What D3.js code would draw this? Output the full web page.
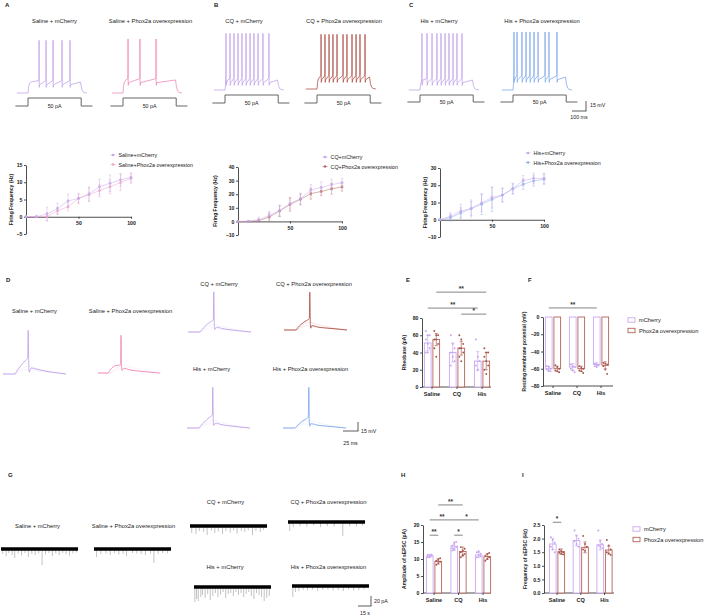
<!DOCTYPE html>
<html><head><meta charset="utf-8">
<script src="https://cdn.jsdelivr.net/npm/d3@7"></script>
<style>body{margin:0;background:#fff}svg{display:block}</style>
</head><body>
<svg id="chart" width="709" height="616"></svg>
<script>
// ================= DATA =================
const groupTitles = ["Saline + mCherry","Saline + Phox2a overexpression","CQ + mCherry","CQ + Phox2a overexpression","His + mCherry","His + Phox2a overexpression"];
const stimLabel = "50 pA";
// A-C: spike times (ms) during a 50 pA step, peak and plateau voltage (mV)
const firingSpikeTimes = [
  [159,209,259,323,380],
  [116,201,316],
  [87,116,144,173,201,230,259,287,316,351,394],
  [109,137,166,194,223,266,294,330,359,387,423],
  [94,130,166,201,230,259,287,316,344,380],
  [87,109,144,173,201,230,259,309,337,394]
];
const firingPeak = [14,16,20,17,20,22];
const firingPlateau = [-48.5,-45.5,-50,-47,-50,-45.5];
const restPotential = -65;
const stepOnMs = 80, stepOffMs = 460;

// f-I curves
const stimSteps = [0,10,20,30,40,50,60,70,80,90,100];
const fiSalineMCherry = [0,0,0.8,2.4,4.6,5.3,6.6,8.7,9.7,10.7,11.4];
const fiSalinePhox    = [0,0,0,1.7,2.9,5.3,6.4,7.6,8.7,9.9,11.1];
const fiSalineMCherryErr = [0,0,2,1.5,2,1.2,2,2.2,2.4,1.8,1.3];
const fiSalinePhoxErr    = [0,0,1.2,1,1.2,1.5,2,1.8,2,2.3,1.5];
const fiCQMCherry = [0,0,1.2,4.4,8,13,16.7,23,25,27,28.5];
const fiCQPhox    = [0,0,0.5,3.2,7.6,12.5,16.2,20.4,22,24,25.3];
const fiCQMCherryErr = [0,0,2,3,4,4,4,4,4,4,3];
const fiCQPhoxErr    = [0,0,1,3,4,5,4,4,3,4,3];
const fiHisMCherry = [0,2,5,6.5,9.8,12.9,14.3,18.2,22.7,24,24];
const fiHisPhox    = [0,1.2,3.9,6.5,9,11.8,14.3,17.8,20.6,22.5,23.5];
const fiHisMCherryErr = [0,2,4,5,5,6,4,3,3,3,3];
const fiHisPhoxErr    = [0,2,3,4,6,7,4,3,3,3,3];
const fiLegend = [["Saline+mCherry","Saline+Phox2a overexpression"],["CQ+mCherry","CQ+Phox2a overexpression"],["His+mCherry","His+Phox2a overexpression"]];
const fiYTicks = [[-5,0,5,10,15],[-10,0,10,20,30,40],[-10,0,10,20,30]];
const fiXTicks = [50,100];

// D: single action potentials [ms, mV above rest]
const apSalineMCherry = [[0,0],[20,0],[22,3],[26,9],[30,14],[34,19],[38,23],[41.2,27],[42,73],[42.8,22],[43.6,3],[45,6],[47,10],[52,9],[60,7],[75,4],[90,2],[105,0]];
const apSalinePhox    = [[0,0],[17,0],[20,5],[25,10],[30,12.5],[35,13],[37.6,13.5],[38.4,63],[39.2,12],[40,4],[42,7],[45,8],[50,6],[60,4],[75,2.5],[90,1],[103,0]];
const apCQMCherry     = [[0,0],[20,0],[23,4],[28,9],[33,14],[38,17],[42.2,21],[43,67],[43.8,14],[44.6,4],[46,7],[49,8],[56,6],[68,4],[85,2],[105,0]];
const apCQPhox        = [[0,0],[20,0],[23,4],[28,9],[33,13],[38,16],[42.2,19],[43,63],[43.8,13],[44.6,3],[46,7],[49,7],[56,5],[68,3.5],[85,2],[105,0]];
const apHisMCherry    = [[0,0],[20,0],[23,4],[28,9],[33,14],[38,18],[42.2,22],[43,68],[43.8,14],[44.6,4],[46,7],[49,8],[56,6],[68,4],[85,2],[105,0]];
const apHisPhox       = [[0,0],[20,0],[23,3],[28,8],[33,12],[38,15],[42.2,18],[43,68],[43.8,12],[44.6,3],[46,7],[49,7],[56,5],[68,3.5],[85,2],[105,0]];
const apSubthreshold1 = [[0,0],[20,0],[26,5],[34,10],[42,13],[50,11],[65,7],[85,3],[105,0]];
const apSubthreshold2 = [[0,0],[20,0],[28,4],[38,7],[48,6],[70,3],[105,0]];

// Bar categories
const barCategories = ["Saline","CQ","His"];
const barSeries = ["mCherry","Phox2a overexpression"];
// E rheobase (pA)
const rheoMCherry = [51,40,30], rheoPhox = [55,45,30];
const rheoMCherrySD = [9,11,11], rheoPhoxSD = [7,8,10];
const rheoMCherryPts = [[65,60,60,55,50,45,40,40],[60,50,45,40,35,30,25],[55,35,30,25,20]];
const rheoPhoxPts = [[65,60,60,55,55,50,45,35],[60,55,50,45,45,40,35,30],[45,40,40,35,30,25,20,15]];
const rheoTicks = [0,20,40,60,80];
// F resting membrane potential (mV)
const rmpMCherry = [-60,-58,-55], rmpPhox = [-60,-60,-56];
const rmpMCherrySD = [3,4,2], rmpPhoxSD = [3,3,4];
const rmpMCherryPts = [[-57,-58,-60,-61,-62,-63],[-55,-57,-58,-60,-62,-64],[-54,-55,-56,-57,-58]];
const rmpPhoxPts = [[-56,-58,-60,-62,-63,-64],[-57,-59,-60,-62,-63,-65],[-53,-54,-55,-57,-61,-66]];
const rmpTicks = [0,-20,-40,-60,-80];
// G sEPSC events [s, pA]
const sepscEvents = [
  [[2,10],[6,14],[9,8],[13,12],[16,18],[20,9],[24,13],[28,8],[32,16],[36,10],[40,12],[44,9],[48,32],[52,11],[56,8],[60,14],[64,9],[68,12],[72,8],[76,10],[80,13],[84,9],[88,7]],
  [[3,16],[8,10],[14,9],[19,12],[24,8],[29,11],[34,10],[38,14],[45,8],[50,9],[55,10],[60,12],[66,9],[70,28],[75,10],[80,8],[86,9]],
  [[2,14],[7,16],[11,10],[16,12],[20,18],[25,9],[29,14],[33,11],[38,16],[42,10],[47,13],[51,9],[55,15],[60,10],[64,12],[68,9],[73,18],[77,10],[82,12],[86,8]],
  [[2,18],[6,10],[14,8],[22,9],[30,7],[38,10],[46,8],[54,9],[64,28],[72,8],[80,9],[87,7]],
  [[1,30],[3,24],[5,28],[8,20],[10,16],[13,22],[16,14],[19,26],[22,18],[25,12],[28,20],[31,15],[34,10],[37,22],[40,14],[43,12],[46,18],[49,10],[52,16],[55,12],[58,20],[61,14],[64,10],[67,18],[70,24],[73,12],[76,16],[79,20],[82,28],[85,22],[88,18]],
  [[1,22],[4,12],[8,10],[13,8],[18,9],[24,7],[30,10],[36,8],[42,7],[48,9],[54,8],[60,10],[66,7],[72,9],[78,8],[84,7]]
];
const sepscDuration = 90;
// H amplitude (pA)
const ampMCherry = [10.9,13.8,11.2], ampPhox = [9.3,12.2,10.7];
const ampMCherrySD = [0.5,1.2,0.8], ampPhoxSD = [0.8,1.3,0.8];
const ampMCherryPts = [[10.5,10.8,11,11.2,10.7,11.3],[12.5,13,13.5,14,14.5,15,13.2,12.8],[10.5,11,11.5,12,12.3,10.8]];
const ampPhoxPts = [[8.3,8.8,9.2,9.5,9.8,10.2],[10.5,11,11.5,12,12.5,13,13.5,11.2],[9.5,10,10.5,11,11.5,11.8]];
const ampTicks = [0,5,10,15,20];
// I frequency (Hz)
const freqMCherry = [1.8,1.93,1.77], freqPhox = [1.52,1.68,1.58];
const freqMCherrySD = [0.2,0.2,0.18], freqPhoxSD = [0.1,0.2,0.15];
const freqMCherryPts = [[2.05,1.95,1.85,1.7,1.6,1.5],[2.3,2.1,2.0,1.9,1.8,1.7],[2.3,1.9,1.8,1.75,1.7,1.65]];
const freqPhoxPts = [[1.6,1.55,1.5,1.48,1.45,1.42],[2.1,1.8,1.7,1.6,1.55],[1.95,1.75,1.6,1.5,1.45,1.4]];
const freqTicks = [0,0.5,1.0,1.5,2.0,2.5];

// ================= DRAW =================
const svg = d3.select("#chart");
const FF = "'Liberation Sans', Arial, Helvetica, sans-serif";
const COL = {mc:"#c3a3ea", salPh:"#ee8db8", cqPh:"#b0524a", hisPh:"#82aaee",
  fiMc:"#c7a9ec", fiSal:"#f2a2c9", fiCQ:"#b86c64", fiHis:"#8eb1ef",
  barM:"#c9a8f0", barP:"#b5645a", dotM:"#c7a2ef", dotP:"#a9544a", axis:"#222", step:"#555", sig:"#666"};
const traceColors = [COL.mc, COL.salPh, COL.mc, COL.cqPh, COL.mc, COL.hisPh];

function text(x,y,t,o={}){
  const el = svg.append("text").attr("x",x).attr("y",y).attr("font-family",FF)
    .attr("font-size",o.size||5.8).attr("text-anchor",o.anchor||"start")
    .attr("font-weight",o.weight||"normal").attr("fill",o.fill||"#222").text(t);
  if(o.rot) el.attr("transform",`rotate(${o.rot},${x},${y})`);
  return el;
}
function line(x1,y1,x2,y2,c,w){ svg.append("line").attr("x1",x1).attr("y1",y1).attr("x2",x2).attr("y2",y2).attr("stroke",c).attr("stroke-width",w); }

// panel letters
[["A",5,7],["B",214,7],["C",409,7],["D",6,282],["E",406,282],["F",528,282],["G",8,477],["H",401,477],["I",522,477]]
  .forEach(([l,x,y])=>text(x,y,l,{size:6,weight:"bold"}));

// ---------- A-C firing traces ----------
const firingLayout = [
  {x0:16.8, base:93, sBase:106, sHigh:98, tx:54.5},
  {x0:111.8, base:93, sBase:106, sHigh:98, tx:150.5},
  {x0:213.8, base:90, sBase:103, sHigh:95, tx:244},
  {x0:305.8, base:89, sBase:103, sHigh:95, tx:344},
  {x0:408.8, base:90, sBase:102, sHigh:95, tx:439},
  {x0:501.8, base:90, sBase:102, sHigh:95, tx:542}
];
const msPx = 0.14, mvPx = 0.667;
function firingPoints(spikes, plateau, peak){
  const r = restPotential, ahp = plateau - 8;
  const pts = [[0,r],[stepOnMs,r],[stepOnMs+4,r+(plateau-r)*0.55],[stepOnMs+10,r+(plateau-r)*0.85],[stepOnMs+20,plateau]];
  spikes.forEach(s=>{ pts.push([s-2,plateau+2],[s-0.4,plateau+6],[s,peak],[s+0.6,plateau+4],[s+1.6,ahp],[s+5,plateau-4]); });
  pts.push([stepOffMs-5,plateau],[stepOffMs+2,r+(plateau-r)*0.45],[stepOffMs+10,r+(plateau-r)*0.15],[stepOffMs+20,r+1],[500,r]);
  return pts.sort((a,b)=>a[0]-b[0]);
}
firingLayout.forEach((L,i)=>{
  const x = d3.scaleLinear().domain([0,1]).range([L.x0, L.x0+msPx]);
  const y = d3.scaleLinear().domain([restPotential, restPotential+1]).range([L.base, L.base-mvPx]);
  const ln = d3.line().x(d=>x(d[0])).y(d=>y(d[1]));
  svg.append("path").attr("d",ln(firingPoints(firingSpikeTimes[i], firingPlateau[i], firingPeak[i])))
    .attr("fill","none").attr("stroke",traceColors[i]).attr("stroke-width",0.8).attr("stroke-linejoin","round");
  const sy = d3.scaleLinear().domain([0,50]).range([L.sBase, L.sHigh]);
  const stepPts = [[-10,0],[stepOnMs,0],[stepOnMs,50],[stepOffMs,50],[stepOffMs,0],[540,0]];
  svg.append("path").attr("d",d3.line().x(d=>x(d[0])).y(d=>sy(d[1]))(stepPts))
    .attr("fill","none").attr("stroke",COL.step).attr("stroke-width",0.9);
  text(x((stepOnMs+stepOffMs)/2), L.sBase+2, stimLabel, {size:5.3, anchor:"middle"});
  text(L.tx, 23, groupTitles[i], {anchor:"middle"});
});
// scale bar A-C
line(586,101,586,111,"#333",0.8); line(572,111,586.4,111,"#333",0.8);
text(590,107,"15 mV",{size:5.3}); text(579,118.5,"100 ms",{size:5.3,anchor:"middle"});

// ---------- f-I plots ----------
const fiData = [
  {m:[fiSalineMCherry,fiSalinePhox], e:[fiSalineMCherryErr,fiSalinePhoxErr], c:[COL.fiMc,COL.fiSal]},
  {m:[fiCQMCherry,fiCQPhox], e:[fiCQMCherryErr,fiCQPhoxErr], c:[COL.fiMc,COL.fiCQ]},
  {m:[fiHisMCherry,fiHisPhox], e:[fiHisMCherryErr,fiHisPhoxErr], c:[COL.fiMc,COL.fiHis]}
];
const fiLayout = [
  {xr:[26,131], yr:[234,165], ylx:13, leg:[113,155]},
  {xr:[238,342], yr:[235,167], ylx:217, leg:[325,157]},
  {xr:[440,544], yr:[237,168], ylx:427, leg:[528,153]}
];
function styleAxis(g){
  g.selectAll("path,line").attr("stroke",COL.axis).attr("stroke-width",0.8);
  g.selectAll("text").attr("font-family",FF).attr("font-size",5.2).attr("font-weight","bold").attr("fill","#222");
}
fiData.forEach((D,k)=>{
  const L = fiLayout[k], ticks = fiYTicks[k];
  const x = d3.scaleLinear().domain([0,100]).range(L.xr);
  const y = d3.scaleLinear().domain([ticks[0], ticks[ticks.length-1]]).range(L.yr);
  const ga = svg.append("g").attr("transform",`translate(${L.xr[0]},0)`)
    .call(d3.axisLeft(y).tickValues(ticks).tickSize(2).tickPadding(1.5).tickSizeOuter(0));
  styleAxis(ga);
  const gb = svg.append("g").attr("transform",`translate(0,${y(0)})`)
    .call(d3.axisBottom(x).tickValues(fiXTicks).tickSize(2).tickPadding(3).tickSizeOuter(0));
  styleAxis(gb);
  text(L.ylx, (L.yr[0]+L.yr[1])/2, "Firing Frequency (Hz)", {size:5, weight:"bold", anchor:"middle", rot:-90});
  [1,0].forEach(s=>{
    const col = D.c[s];
    const g = svg.append("g").attr("opacity",0.85);
    g.append("path").attr("d",d3.line().x((d,i)=>x(stimSteps[i])).y(d=>y(d))(D.m[s]))
      .attr("fill","none").attr("stroke",col).attr("stroke-width",0.6);
    D.m[s].forEach((v,i)=>{
      const e = D.e[s][i], xx = x(stimSteps[i]);
      if(e>0){
        g.append("line").attr("x1",xx).attr("x2",xx).attr("y1",y(v-e)).attr("y2",y(v+e)).attr("stroke",col).attr("stroke-width",0.5);
        [v-e,v+e].forEach(b=>g.append("line").attr("x1",xx-1.2).attr("x2",xx+1.2).attr("y1",y(b)).attr("y2",y(b)).attr("stroke",col).attr("stroke-width",0.5));
      }
      g.append("circle").attr("cx",xx).attr("cy",y(v)).attr("r",1.4).attr("fill",col);
    });
  });
  fiLegend[k].forEach((t,s)=>{
    const lx = L.leg[0], ly = L.leg[1] + s*9.5;
    line(lx-2.5,ly,lx+2.5,ly,D.c[s],0.6);
    svg.append("circle").attr("cx",lx).attr("cy",ly).attr("r",1.3).attr("fill",D.c[s]);
    text(lx+5.5, ly+2, t, {size:5.4});
  });
});

// ---------- D action potentials ----------
const apData = [apSalineMCherry, apSalinePhox, apCQMCherry, apCQPhox, apHisMCherry, apHisPhox];
const apLayout = [
  {x0:3, base:374, tx:34.5, ty:313},
  {x0:98, base:373, tx:130.5, ty:313},
  {x0:188, base:332, tx:219, ty:286},
  {x0:284, base:330, tx:314, ty:286},
  {x0:187, base:428, tx:211.5, ty:371},
  {x0:283, base:428, tx:310.5, ty:371}
];
const apPx = 0.6;
apLayout.forEach((L,i)=>{
  const x = d3.scaleLinear().domain([0,1]).range([L.x0, L.x0+apPx]);
  const y = d3.scaleLinear().domain([0,1]).range([L.base, L.base-apPx]);
  const ln = d3.line().x(d=>x(d[0])).y(d=>y(d[1])).curve(d3.curveMonotoneX);
  [apSubthreshold1, apSubthreshold2].forEach(sp=>{
    svg.append("path").attr("d",ln(sp)).attr("fill","none").attr("stroke",traceColors[i]).attr("stroke-width",0.5).attr("opacity",0.25);
  });
  svg.append("path").attr("d",ln(apData[i])).attr("fill","none").attr("stroke",traceColors[i]).attr("stroke-width",0.9).attr("stroke-linejoin","round");
  text(L.tx, L.ty, groupTitles[i], {anchor:"middle"});
});
line(358,422,358,431,"#333",0.8); line(343,431,358.4,431,"#333",0.8);
text(361,433,"15 mV",{size:5.3}); text(350.5,445,"25 ms",{size:5.3,anchor:"middle"});

// ---------- Bar charts ----------
function barChart(o){
  const y = d3.scaleLinear().domain(o.yDom).range(o.yRange);
  const x = d3.scalePoint().domain(barCategories).range(o.centers);
  const inner = d3.scaleBand().domain(barSeries).range([-8,8]).paddingInner(0.12);
  const bw = inner.bandwidth();
  const ga = svg.append("g").attr("transform",`translate(${o.axisX},0)`)
    .call(d3.axisLeft(y).tickValues(o.ticks).tickSize(2).tickPadding(1.5).tickSizeOuter(0).tickFormat(o.fmt||d3.format("")));
  styleAxis(ga);
  const xAxisY = y(o.xAxisAt);
  line(o.axisX, xAxisY, o.axisEnd, xAxisY, COL.axis, 0.8);
  barCategories.forEach(c=>{ line(x(c), xAxisY, x(c), xAxisY+2, COL.axis, 0.8);
    text(x(c), xAxisY+9, c, {size:5.6, weight:"bold", anchor:"middle"}); });
  const series = [
    {name:barSeries[0], mean:o.mM, sd:o.sdM, pts:o.pM, stroke:COL.barM, dot:COL.dotM},
    {name:barSeries[1], mean:o.mP, sd:o.sdP, pts:o.pP, stroke:COL.barP, dot:COL.dotP}
  ];
  series.forEach(S=>{
    barCategories.forEach((c,ci)=>{
      const bx = x(c)+inner(S.name), v = S.mean[ci];
      const y0 = y(0), y1 = y(v);
      svg.append("rect").attr("x",bx+0.4).attr("y",Math.min(y0,y1)).attr("width",bw-0.8).attr("height",Math.abs(y1-y0))
        .attr("fill","#fff").attr("stroke",S.stroke).attr("stroke-width",0.9);
      const cx = bx+bw/2, sd = S.sd[ci];
      line(cx, y(v-sd), cx, y(v+sd), S.stroke, 0.7);
      [v-sd, v+sd].forEach(b=>line(cx-1.6, y(b), cx+1.6, y(b), S.stroke, 0.7));
      S.pts[ci].forEach((p,pi)=>{
        svg.append("circle").attr("cx",cx+((pi%3)-1)*1.9).attr("cy",y(p)).attr("r",0.95).attr("fill",S.dot);
      });
    });
  });
  text(o.ylx, (o.yRange[0]+o.yRange[1])/2, o.yLabel, {size:5, weight:"bold", anchor:"middle", rot:-90});
  (o.sig||[]).forEach(([a,sa,b,sb,lv,lab])=>{
    const x1 = x(barCategories[a])+inner(barSeries[sa])+bw/2, x2 = x(barCategories[b])+inner(barSeries[sb])+bw/2;
    line(x1, y(lv), x2, y(lv), COL.sig, 0.8);
    text((x1+x2)/2, y(lv)-1.2, lab, {size:6.5, weight:"bold", anchor:"middle", fill:"#333"});
  });
  if(o.legend){
    series.forEach((S,si)=>{
      const lx = o.legend[0], ly = o.legend[1]+si*10.5;
      svg.append("rect").attr("x",lx).attr("y",ly-2.2).attr("width",7).attr("height",4.4).attr("fill","#fff").attr("stroke",S.stroke).attr("stroke-width",0.9);
      text(lx+11, ly+2, S.name, {size:5.7});
    });
  }
}
// E
barChart({yDom:[0,80], yRange:[387,318], centers:[432,482], axisX:422, axisEnd:491, xAxisAt:0, ticks:rheoTicks,
  mM:rheoMCherry, mP:rheoPhox, sdM:rheoMCherrySD, sdP:rheoPhoxSD, pM:rheoMCherryPts, pP:rheoPhoxPts,
  yLabel:"Rheobase (pA)", ylx:406,
  sig:[[0,1,2,1,110,"**"],[0,0,2,0,91.5,"**"],[1,1,2,1,84.5,"*"]]});
// F
barChart({yDom:[-80,0], yRange:[386,317], centers:[553,601], axisX:543, axisEnd:613, xAxisAt:-80, ticks:rmpTicks,
  mM:rmpMCherry, mP:rmpPhox, sdM:rmpMCherrySD, sdP:rmpPhoxSD, pM:rmpMCherryPts, pP:rmpPhoxPts,
  yLabel:"Resting membrane potential (mV)", ylx:526,
  sig:[[0,0,2,0,10.5,"**"]], legend:[628,320]});
// H
barChart({yDom:[0,20], yRange:[593,525], centers:[434,483], axisX:423, axisEnd:491, xAxisAt:0, ticks:ampTicks,
  mM:ampMCherry, mP:ampPhox, sdM:ampMCherrySD, sdP:ampPhoxSD, pM:ampMCherryPts, pP:ampPhoxPts,
  yLabel:"Amplitude of sEPSC (pA)", ylx:406,
  sig:[[0,1,1,1,25.9,"**"],[0,0,1,0,21.5,"**"],[1,0,2,0,21.5,"*"],[0,0,0,1,17,"**"],[1,0,1,1,17,"*"]]});
// I
barChart({yDom:[0,2.5], yRange:[593,525], centers:[557,604.5], axisX:544, axisEnd:614, xAxisAt:0, ticks:freqTicks, fmt:d3.format(".1f"),
  mM:freqMCherry, mP:freqPhox, sdM:freqMCherrySD, sdP:freqPhoxSD, pM:freqMCherryPts, pP:freqPhoxPts,
  yLabel:"Frequency of sEPSC (Hz)", ylx:527,
  sig:[[0,0,0,1,2.6,"*"]], legend:[633,529]});

// ---------- G sEPSC traces ----------
const sepscLayout = [
  {x0:1, y0:549, tx:37.5, ty:528},
  {x0:94, y0:549, tx:133.5, ty:528},
  {x0:190, y0:526, tx:225.5, ty:504},
  {x0:288, y0:522, tx:328.5, ty:504},
  {x0:194, y0:587, tx:225, ty:569},
  {x0:292, y0:586, tx:328.5, ty:569}
];
const sPx = 0.856, pAPx = 0.5;
sepscLayout.forEach((L,i)=>{
  const x = d3.scaleLinear().domain([0,1]).range([L.x0, L.x0+sPx]);
  const y = d3.scaleLinear().domain([0,1]).range([L.y0, L.y0+pAPx]);
  sepscEvents[i].forEach(([t,a])=>line(x(t), y(0), x(t), y(a), "#777", 0.45));
  line(x(0), y(0), x(sepscDuration), y(0), "#000", 3.6);
  text(L.tx, L.ty, groupTitles[i], {anchor:"middle"});
});
line(371,596,371,606,"#333",0.8); line(358,606,371.4,606,"#333",0.8);
text(374,603,"20 pA",{size:5.3}); text(365,615,"15 s",{size:5.3,anchor:"middle"});
</script>
</body></html>
